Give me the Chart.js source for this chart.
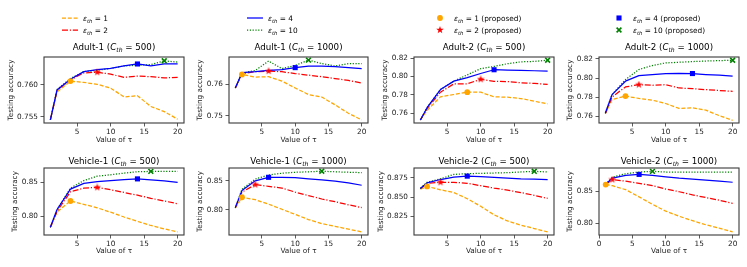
<!DOCTYPE html>
<html>
<head>
<meta charset="utf-8">
<script src="https://cdn.jsdelivr.net/npm/chart.js@4"></script>
<style>
  body { margin: 0; background: #fff; width: 747px; height: 267px; position: relative; overflow: hidden; font-family: 'DejaVu Sans', sans-serif; color: #000; }
  canvas { position: absolute; }
  .ttl { position: absolute; font-size: 8.7px; line-height: 11px; white-space: nowrap; transform: translateX(-50%); }
  .lg { position: absolute; font-size: 7.4px; line-height: 9px; white-space: nowrap; }
  sub { font-size: 70%; vertical-align: -0.3em; line-height: 0; }
  svg { position: absolute; overflow: visible; }
</style>
</head>
<body>
<script>
// tau values shared by every panel
const taus = [1, 2, 4, 6, 8, 10, 12, 14, 16, 18, 20]

// Adult-1, C_th = 500
const adult1_500_eps1 = [0.7545, 0.7589, 0.7606, 0.7604, 0.7601, 0.7595, 0.7581, 0.7583, 0.7566, 0.7558, 0.7546]
const adult1_500_eps2 = [0.7545, 0.7592, 0.7608, 0.7619, 0.7620, 0.7617, 0.7612, 0.7614, 0.7613, 0.7611, 0.7612]
const adult1_500_eps4 = [0.7545, 0.7592, 0.7609, 0.7621, 0.7624, 0.7626, 0.7630, 0.7633, 0.7630, 0.7633, 0.7633]
const adult1_500_eps10 = [0.7545, 0.7593, 0.7610, 0.7621, 0.7623, 0.7626, 0.7630, 0.7631, 0.7632, 0.7638, 0.7636]
const adult1_500_proposed = [4, 8, 14, 18]
const adult1_500_yRange = [0.7540, 0.7644]
const adult1_500_yTicks = [0.755, 0.760]

// Adult-1, C_th = 1000
const adult1_1000_eps1 = [0.7589, 0.7632, 0.7624, 0.7625, 0.7611, 0.7589, 0.7568, 0.7560, 0.7535, 0.7508, 0.7487]
const adult1_1000_eps2 = [0.7589, 0.7635, 0.7641, 0.7643, 0.7641, 0.7635, 0.7630, 0.7625, 0.7619, 0.7613, 0.7605]
const adult1_1000_eps4 = [0.7589, 0.7638, 0.7641, 0.7645, 0.7648, 0.7654, 0.7659, 0.7659, 0.7657, 0.7654, 0.7651]
const adult1_1000_eps10 = [0.7589, 0.7636, 0.7645, 0.7675, 0.7651, 0.7661, 0.7678, 0.7667, 0.7659, 0.7667, 0.7667]
const adult1_1000_proposed = [2, 6, 10, 12]
const adult1_1000_yRange = [0.7477, 0.7688]
const adult1_1000_yTicks = [0.75, 0.76]

// Adult-2, C_th = 500
const adult2_500_eps1 = [0.7526, 0.7630, 0.7778, 0.7804, 0.7829, 0.7829, 0.7778, 0.7775, 0.7760, 0.7731, 0.7702]
const adult2_500_eps2 = [0.7526, 0.7650, 0.7829, 0.7920, 0.7920, 0.7970, 0.7947, 0.7945, 0.7932, 0.7925, 0.7914]
const adult2_500_eps4 = [0.7526, 0.7660, 0.7858, 0.7950, 0.7989, 0.8033, 0.8074, 0.8070, 0.8067, 0.8063, 0.8059]
const adult2_500_eps10 = [0.7526, 0.7660, 0.7858, 0.7950, 0.8018, 0.8085, 0.8110, 0.8140, 0.8160, 0.8165, 0.8178]
const adult2_500_proposed = [8, 10, 12, 20]
const adult2_500_yRange = [0.7493, 0.8213]
const adult2_500_yTicks = [0.76, 0.78, 0.80, 0.82]

// Adult-2, C_th = 1000
const adult2_1000_eps1 = [0.7628, 0.7776, 0.7811, 0.7787, 0.7769, 0.7734, 0.7682, 0.7689, 0.7664, 0.7607, 0.7558]
const adult2_1000_eps2 = [0.7630, 0.7802, 0.7907, 0.7931, 0.7924, 0.7931, 0.7896, 0.7889, 0.7879, 0.7870, 0.7861]
const adult2_1000_eps4 = [0.7635, 0.7827, 0.7967, 0.8026, 0.8037, 0.8047, 0.8049, 0.8047, 0.8037, 0.8030, 0.8020]
const adult2_1000_eps10 = [0.7635, 0.7827, 0.7984, 0.8089, 0.8131, 0.8158, 0.8165, 0.8172, 0.8178, 0.8182, 0.8186]
const adult2_1000_proposed = [4, 6, 14, 20]
const adult2_1000_yRange = [0.7530, 0.8220]
const adult2_1000_yTicks = [0.76, 0.78, 0.80, 0.82]

// Vehicle-1, C_th = 500
const vehicle1_500_eps1 = [0.784, 0.8065, 0.8225, 0.8175, 0.8125, 0.806, 0.799, 0.7925, 0.7865, 0.7815, 0.777]
const vehicle1_500_eps2 = [0.784, 0.8075, 0.836, 0.8415, 0.8425, 0.839, 0.835, 0.831, 0.8265, 0.8225, 0.8185]
const vehicle1_500_eps4 = [0.784, 0.810, 0.840, 0.8485, 0.851, 0.8525, 0.854, 0.855, 0.8535, 0.852, 0.850]
const vehicle1_500_eps10 = [0.784, 0.810, 0.8415, 0.8525, 0.859, 0.861, 0.8635, 0.8655, 0.866, 0.866, 0.866]
const vehicle1_500_proposed = [4, 8, 14, 16]
const vehicle1_500_yRange = [0.7725, 0.871]
const vehicle1_500_yTicks = [0.80, 0.85]

// Vehicle-1, C_th = 1000
const vehicle1_1000_eps1 = [0.803, 0.8218, 0.8176, 0.810, 0.8012, 0.7924, 0.7835, 0.7765, 0.7718, 0.7671, 0.7624]
const vehicle1_1000_eps2 = [0.804, 0.8306, 0.8435, 0.8406, 0.8376, 0.8306, 0.8247, 0.8188, 0.8141, 0.8088, 0.8041]
const vehicle1_1000_eps4 = [0.804, 0.8335, 0.850, 0.856, 0.856, 0.8553, 0.8535, 0.8518, 0.8494, 0.8465, 0.8424]
const vehicle1_1000_eps10 = [0.804, 0.8353, 0.853, 0.860, 0.863, 0.8647, 0.8655, 0.8665, 0.8655, 0.8647, 0.8641]
const vehicle1_1000_proposed = [2, 4, 6, 14]
const vehicle1_1000_yRange = [0.757, 0.872]
const vehicle1_1000_yTicks = [0.80, 0.85]

// Vehicle-2, C_th = 500
const vehicle2_500_eps1 = [0.8603, 0.8638, 0.8594, 0.8558, 0.8478, 0.8379, 0.8268, 0.8188, 0.8134, 0.8089, 0.8045]
const vehicle2_500_eps2 = [0.8612, 0.8679, 0.8692, 0.8692, 0.8679, 0.8647, 0.8616, 0.8589, 0.8558, 0.8522, 0.8482]
const vehicle2_500_eps4 = [0.8612, 0.8683, 0.8728, 0.8759, 0.8772, 0.8764, 0.8755, 0.8746, 0.8737, 0.8732, 0.8728]
const vehicle2_500_eps10 = [0.8612, 0.8692, 0.8737, 0.8795, 0.8804, 0.8808, 0.8813, 0.8817, 0.8826, 0.8835, 0.8826]
const vehicle2_500_proposed = [2, 4, 8, 18]
const vehicle2_500_yRange = [0.8005, 0.8878]
const vehicle2_500_yTicks = [0.825, 0.850, 0.875]

// Vehicle-2, C_th = 1000
const vehicle2_1000_eps1 = [0.8608, 0.8591, 0.8527, 0.8414, 0.8296, 0.8188, 0.8108, 0.8038, 0.7973, 0.7919, 0.786]
const vehicle2_1000_eps2 = [0.8608, 0.8688, 0.8661, 0.8629, 0.8591, 0.8538, 0.8495, 0.8446, 0.8403, 0.836, 0.8312]
const vehicle2_1000_eps4 = [0.8618, 0.871, 0.8753, 0.8769, 0.8753, 0.8731, 0.871, 0.8694, 0.8677, 0.8661, 0.8645]
const vehicle2_1000_eps10 = [0.861, 0.8726, 0.878, 0.8806, 0.8817, 0.8806, 0.8806, 0.8806, 0.8806, 0.8806, 0.8806]
const vehicle2_1000_proposed = [1, 2, 6, 8]
const vehicle2_1000_yRange = [0.7812, 0.887]
const vehicle2_1000_yTicks = [0.80, 0.85]

const epsLevels = [1, 2, 4, 10]

const panels = [
  { name: 'Adult-1', cth: 500, series: [adult1_500_eps1, adult1_500_eps2, adult1_500_eps4, adult1_500_eps10], proposed: adult1_500_proposed, yRange: adult1_500_yRange, yTicks: adult1_500_yTicks, dec: 3 },
  { name: 'Adult-1', cth: 1000, series: [adult1_1000_eps1, adult1_1000_eps2, adult1_1000_eps4, adult1_1000_eps10], proposed: adult1_1000_proposed, yRange: adult1_1000_yRange, yTicks: adult1_1000_yTicks, dec: 2 },
  { name: 'Adult-2', cth: 500, series: [adult2_500_eps1, adult2_500_eps2, adult2_500_eps4, adult2_500_eps10], proposed: adult2_500_proposed, yRange: adult2_500_yRange, yTicks: adult2_500_yTicks, dec: 2 },
  { name: 'Adult-2', cth: 1000, series: [adult2_1000_eps1, adult2_1000_eps2, adult2_1000_eps4, adult2_1000_eps10], proposed: adult2_1000_proposed, yRange: adult2_1000_yRange, yTicks: adult2_1000_yTicks, dec: 2 },
  { name: 'Vehicle-1', cth: 500, series: [vehicle1_500_eps1, vehicle1_500_eps2, vehicle1_500_eps4, vehicle1_500_eps10], proposed: vehicle1_500_proposed, yRange: vehicle1_500_yRange, yTicks: vehicle1_500_yTicks, dec: 2 },
  { name: 'Vehicle-1', cth: 1000, series: [vehicle1_1000_eps1, vehicle1_1000_eps2, vehicle1_1000_eps4, vehicle1_1000_eps10], proposed: vehicle1_1000_proposed, yRange: vehicle1_1000_yRange, yTicks: vehicle1_1000_yTicks, dec: 2 },
  { name: 'Vehicle-2', cth: 500, series: [vehicle2_500_eps1, vehicle2_500_eps2, vehicle2_500_eps4, vehicle2_500_eps10], proposed: vehicle2_500_proposed, yRange: vehicle2_500_yRange, yTicks: vehicle2_500_yTicks, dec: 3 },
  { name: 'Vehicle-2', cth: 1000, series: [vehicle2_1000_eps1, vehicle2_1000_eps2, vehicle2_1000_eps4, vehicle2_1000_eps10], proposed: vehicle2_1000_proposed, yRange: vehicle2_1000_yRange, yTicks: vehicle2_1000_yTicks, dec: 2, xMin: 0, xTicks: [0, 5, 10, 15, 20] },
]

// --- layout (pixels) ---
const plotLeft = [44, 229, 414, 599]
const plotRight = [184, 368, 554, 739]
const plotTop = [57, 168]
const plotBottom = [123, 235]
const titleY = [47.3, 161]
const PAD_TOP = 8
const PAD_RIGHT = 8

const lineStyles = [
  { color: '#FFA500', dash: [4, 1.8] },
  { color: '#FF0000', dash: [6, 1.8, 1.2, 1.8] },
  { color: '#0000FF', dash: [] },
  { color: '#008000', dash: [1.2, 1.6] },
]

function starImage(size, color) {
  const c = document.createElement('canvas')
  c.width = c.height = size
  const g = c.getContext('2d')
  g.fillStyle = color
  g.beginPath()
  for (let i = 0; i < 10; i++) {
    const r = i % 2 ? size * 0.2 : size / 2
    const a = -Math.PI / 2 + i * Math.PI / 5
    g.lineTo(size / 2 + r * Math.cos(a), size / 2 + r * Math.sin(a))
  }
  g.closePath()
  g.fill()
  return c
}
const starMarker = starImage(8, '#FF0000')

const markerStyles = [
  { pointStyle: 'circle', radius: 2.9, bg: '#FFA500', border: '#FFA500', bw: 0 },
  { pointStyle: starMarker, radius: 4, bg: '#FF0000', border: '#FF0000', bw: 0 },
  { pointStyle: 'rect', radius: 3.6, bg: '#0000FF', border: '#0000FF', bw: 0 },
  { pointStyle: 'crossRot', radius: 3.4, bg: '#008000', border: '#008000', bw: 1.6 },
]

const frame = {
  id: 'frame',
  afterDatasetsDraw(chart) {
    const { ctx, chartArea: a } = chart
    ctx.save()
    ctx.strokeStyle = '#3a3a3a'
    ctx.lineWidth = 1.1
    ctx.strokeRect(a.left, a.top, a.right - a.left, a.bottom - a.top)
    ctx.restore()
  }
}

Chart.defaults.font.family = "'DejaVu Sans', sans-serif"
Chart.defaults.color = '#222'

const tickFont = { size: 7.3 }

panels.forEach((p, idx) => {
  const col = idx % 4
  const row = Math.floor(idx / 4)
  const yDigits = p.yTicks.map(v => v.toFixed(p.dec)).reduce((m, s) => Math.max(m, s.length), 0)
  const yWidth = yDigits >= 5 ? 37 : 33
  const left = plotLeft[col] - yWidth
  const top = plotTop[row] - PAD_TOP
  const xHeight = row === 0 ? 21 : 20
  const width = plotRight[col] - left + PAD_RIGHT
  const height = plotBottom[row] + xHeight - top

  const canvas = document.createElement('canvas')
  canvas.width = width
  canvas.height = height
  canvas.style.left = left + 'px'
  canvas.style.top = top + 'px'
  document.body.appendChild(canvas)

  const ttl = document.createElement('div')
  ttl.className = 'ttl'
  ttl.style.left = ((plotLeft[col] + plotRight[col]) / 2) + 'px'
  ttl.style.top = (titleY[row] - 5.5) + 'px'
  ttl.innerHTML = `${p.name} (<i>C<sub>th</sub></i> = ${p.cth})`
  document.body.appendChild(ttl)

  const lineSets = p.series.map((vals, k) => ({
    data: taus.map((t, i) => ({ x: t, y: vals[i] })),
    borderColor: lineStyles[k].color,
    borderDash: lineStyles[k].dash,
    borderWidth: 1.25,
    pointRadius: 0,
    fill: false,
    tension: 0,
    borderJoinStyle: 'round',
    order: [4, 3, 1, 2][k],
  }))
  const markerSets = p.proposed.map((tau, k) => ({
    data: [{ x: tau, y: p.series[k][taus.indexOf(tau)] }],
    showLine: false,
    pointStyle: markerStyles[k].pointStyle,
    pointRadius: markerStyles[k].radius,
    pointBackgroundColor: markerStyles[k].bg,
    pointBorderColor: markerStyles[k].border,
    pointBorderWidth: markerStyles[k].bw,
    order: 0,
  }))

  const xTicks = p.xTicks || [5, 10, 15, 20]
  const axisGrid = { display: true, drawOnChartArea: false, drawTicks: true, tickLength: 3.5, tickWidth: 0.8, tickColor: '#333' }

  new Chart(canvas, {
    type: 'line',
    data: { datasets: [...markerSets, ...lineSets] },
    options: {
      responsive: false,
      animation: false,
      devicePixelRatio: 1,
      layout: { padding: { top: PAD_TOP, right: PAD_RIGHT, left: 0, bottom: 0 } },
      plugins: { legend: { display: false }, tooltip: { enabled: false } },
      scales: {
        x: {
          type: 'linear',
          min: p.xMin ?? 0.05,
          max: 20.95,
          afterBuildTicks: s => { s.ticks = xTicks.map(v => ({ value: v })) },
          afterFit: s => { s.height = xHeight },
          grid: axisGrid,
          border: { display: false },
          ticks: { font: tickFont, padding: 1, maxRotation: 0, autoSkip: false, callback: v => String(v) },
          title: { display: true, text: 'Value of τ', padding: 0, font: tickFont },
        },
        y: {
          min: p.yRange[0],
          max: p.yRange[1],
          afterBuildTicks: s => { s.ticks = p.yTicks.map(v => ({ value: v })) },
          afterFit: s => { s.width = yWidth },
          grid: axisGrid,
          border: { display: false },
          ticks: { font: tickFont, padding: 2.5, autoSkip: false, callback: v => v.toFixed(p.dec) },
          title: { display: true, text: 'Testing accuracy', padding: 0, font: tickFont },
        }
      }
    },
    plugins: [frame]
  })
})

// --- legend ---
const legendLines = [
  { x: 62, y: 18, k: 0 }, { x: 62, y: 30, k: 1 }, { x: 247, y: 18, k: 2 }, { x: 247, y: 30, k: 3 },
]
const legendMarkers = [
  { x: 440, y: 18, k: 0 }, { x: 440, y: 30, k: 1 }, { x: 619, y: 18, k: 2 }, { x: 619, y: 30, k: 3 },
]
const epsLabel = e => `<i>ε<sub>th</sub></i> = ${e}`

function addText(x, y, html) {
  const d = document.createElement('div')
  d.className = 'lg'
  d.style.left = x + 'px'
  d.style.top = (y - 4.5) + 'px'
  d.innerHTML = html
  document.body.appendChild(d)
}

legendLines.forEach(e => {
  const s = lineStyles[e.k]
  const svg = `<svg style="left:${e.x}px;top:${e.y - 3}px" width="16" height="6"><line x1="0" y1="3" x2="16" y2="3" stroke="${s.color}" stroke-width="1.25" stroke-dasharray="${s.dash.join(' ')}"/></svg>`
  document.body.insertAdjacentHTML('beforeend', svg)
  addText(e.x + 21, e.y, epsLabel(epsLevels[e.k]))
})

legendMarkers.forEach(e => {
  const c = lineStyles[e.k].color
  let shape
  if (e.k === 0) shape = `<circle cx="4" cy="4" r="2.9" fill="${c}"/>`
  else if (e.k === 1) shape = `<polygon points="4,0 4.94,2.71 7.8,2.76 5.52,4.49 6.35,7.24 4,5.6 1.65,7.24 2.48,4.49 0.2,2.76 3.06,2.71" fill="${c}"/>`
  else if (e.k === 2) shape = `<rect x="1.45" y="1.45" width="5.1" height="5.1" fill="${c}"/>`
  else shape = `<path d="M1.6,1.6 L6.4,6.4 M6.4,1.6 L1.6,6.4" stroke="${c}" stroke-width="1.6"/>`
  document.body.insertAdjacentHTML('beforeend', `<svg style="left:${e.x - 4}px;top:${e.y - 4}px" width="8" height="8">${shape}</svg>`)
  addText(e.x + 14, e.y, `${epsLabel(epsLevels[e.k])} (proposed)`)
})
</script>
</body>
</html>
